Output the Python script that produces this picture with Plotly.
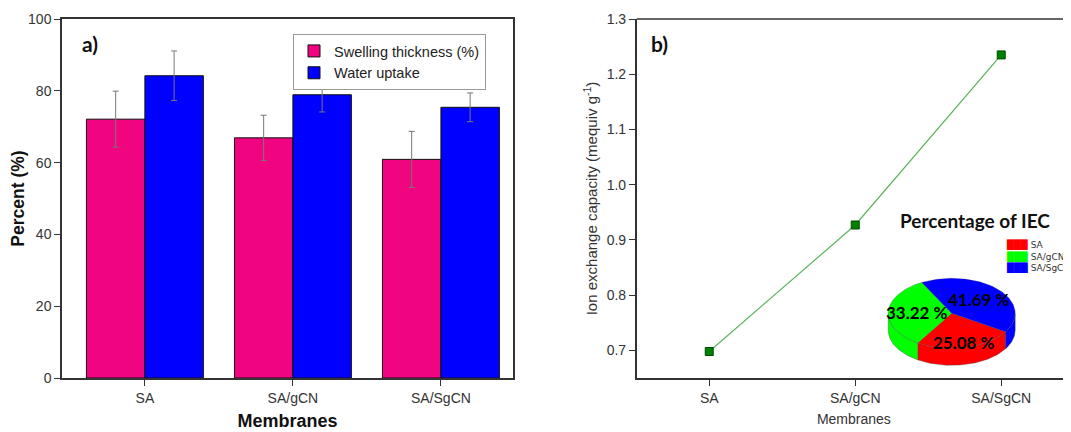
import numpy as np
import plotly.graph_objects as go

# ---------------- data ----------------
membranes = ["SA", "SA/gCN", "SA/SgCN"]
swelling = [72.1, 66.9, 60.9]
swelling_err = [7.8, 6.3, 7.8]
water_uptake = [84.2, 78.9, 75.4]
water_err = [6.9, 4.8, 4.0]
iec = [0.698, 0.927, 1.235]
iec_pct = [25.08, 33.22, 41.69]
pie_labels = ["SA", "SA/gCN", "SA/SgCN"]
pie_colors = ["#FF0000", "#00FF00", "#0000FF"]

# the page body has an 8px margin; figure is sized / placed to compensate
OFF = 8
W, H = 1071 - OFF, 432 - OFF
ML, MR, MT, MB = 62 - OFF, 0, 19 - OFF, 54
PW = W - ML - MR
PH = H - MT - MB

def px_x(p):  # screen pixel -> paper x
    return (p - OFF - ML) / PW

def px_y(p):  # screen pixel -> paper y
    return (H - MB - (p - OFF)) / PH

fig = go.Figure()

# ---------------- panel a ----------------
fig.add_trace(go.Bar(
    x=membranes, y=swelling, name="Swelling thickness (%)",
    marker=dict(color="#F0047F", line=dict(color="#111", width=1)),
    error_y=dict(type="data", array=swelling_err, color="#777", thickness=1, width=3),
    xaxis="x", yaxis="y"))
fig.add_trace(go.Bar(
    x=membranes, y=water_uptake, name="Water uptake",
    marker=dict(color="#0000FF", line=dict(color="#111", width=1)),
    error_y=dict(type="data", array=water_err, color="#777", thickness=1, width=3),
    xaxis="x", yaxis="y"))

# ---------------- panel b ----------------
fig.add_trace(go.Scatter(
    x=membranes, y=iec, mode="lines+markers", showlegend=False,
    line=dict(color="#5cb25c", width=1.2),
    marker=dict(symbol="square", size=8, color="#008000", line=dict(color="#004d00", width=1)),
    xaxis="x2", yaxis="y2"))

# ---------------- inset 3D-look pie ----------------
A, B, TH = 63.5, 35.0, 17.0   # ellipse semi-axes and thickness (pixels)
start = -32.0
fr = np.array(iec_pct) / np.sum(iec_pct)
bounds = start - 360.0 * np.concatenate([[0], np.cumsum(fr)])

def ell(t, dy=0.0):
    r = np.radians(t)
    return A * np.cos(r), B * np.sin(r) + dy

for i in range(3):
    lo, hi = bounds[i + 1], bounds[i]
    for k in range(-2, 2):
        flo, fhi = -180 + 360 * k, 0 + 360 * k
        a, b = max(lo, flo), min(hi, fhi)
        if b > a:
            t = np.linspace(a, b, 60)
            x1, y1 = ell(t)
            x2, y2 = ell(t[::-1], -TH)
            fig.add_trace(go.Scatter(
                x=np.concatenate([x1, x2, x1[:1]]), y=np.concatenate([y1, y2, y1[:1]]),
                mode="lines", fill="toself", fillcolor=pie_colors[i],
                line=dict(color="rgba(60,60,60,0.6)", width=0.6),
                showlegend=False, hoverinfo="skip", xaxis="x3", yaxis="y3"))

for i in range(3):
    t = np.linspace(bounds[i], bounds[i + 1], 80)
    xe, ye = ell(t)
    fig.add_trace(go.Scatter(
        x=np.concatenate([[0], xe, [0]]), y=np.concatenate([[0], ye, [0]]),
        mode="lines", fill="toself", fillcolor=pie_colors[i],
        line=dict(color="rgba(60,60,60,0.5)", width=0.5),
        name=pie_labels[i], showlegend=False, hoverinfo="skip",
        xaxis="x3", yaxis="y3"))

label_r = [0.85, 0.55, 0.58]
for i in range(3):
    mid = (bounds[i] + bounds[i + 1]) / 2
    lx, ly = ell(mid)
    fig.add_annotation(x=lx * label_r[i], y=ly * label_r[i], xref="x3", yref="y3",
                       xanchor="center", yanchor="middle",
                       text=f"<b>{iec_pct[i]:.2f} %</b>", showarrow=False,
                       font=dict(family="Lato, Open Sans", size=17, color="black"))

# pie legend as one text block (coloured swatches + labels)
legend_txt = "<br>".join(
    f"<span style='color:{c}'>███</span> {lab}" for c, lab in zip(pie_colors, pie_labels))
fig.add_annotation(x=px_x(1004), y=px_y(237), xref="paper", yref="paper",
                   xanchor="left", yanchor="top", align="left", showarrow=False,
                   text=legend_txt,
                   font=dict(family="DejaVu Sans, Liberation Sans", size=9, color="#333"))

# ---------------- layout ----------------
axis_common = dict(showline=True, linecolor="#333", linewidth=1.5, ticks="outside",
                   ticklen=6, tickcolor="#333", tickwidth=1.2, showgrid=False, zeroline=False,
                   tickfont=dict(family="Liberation Sans, Arial", size=14, color="#333"))

cx, cy = 951.7, 313.3
fig.update_layout(
    width=W, height=H, margin=dict(l=ML, r=MR, t=MT, b=MB),
    paper_bgcolor="white", plot_bgcolor="white",
    barmode="group", bargap=0.21, bargroupgap=0,
    xaxis=dict(domain=[0, px_x(513)], range=[-0.56, 2.487], mirror=True, **axis_common,
               title=dict(text="<b>Membranes</b>", standoff=10,
                          font=dict(family="Liberation Sans, Arial", size=18, color="#111"))),
    yaxis=dict(range=[0, 100], tickvals=[0, 20, 40, 60, 80, 100], mirror=True, **axis_common,
               title=dict(text="<b>Percent (%)</b>", standoff=6,
                          font=dict(family="Liberation Sans, Arial", size=17.5, color="#111"))),
    xaxis2=dict(domain=[px_x(636.7), 1.0], range=[-0.497, 2.478], anchor="y2", **axis_common,
                title=dict(text="Membranes", standoff=10,
                           font=dict(family="Liberation Sans, Arial", size=14, color="#333"))),
    yaxis2=dict(range=[0.65, 1.3], tickvals=[0.7, 0.8, 0.9, 1.0, 1.1, 1.2, 1.3],
                tickformat=".1f", anchor="x2", **axis_common,
                title=dict(text="Ion exchange capacity (mequiv g<sup>-1</sup>)", standoff=5,
                           font=dict(family="Liberation Sans, Arial", size=15, color="#333"))),
    xaxis3=dict(domain=[px_x(cx - 85), px_x(cx + 85)], range=[-85, 85], visible=False,
                anchor="y3", fixedrange=True),
    yaxis3=dict(domain=[px_y(cy + 60), px_y(cy - 45)], range=[-60, 45], visible=False,
                anchor="x3", fixedrange=True),
    legend=dict(x=px_x(293), y=px_y(34), xanchor="left", yanchor="top",
                bordercolor="#999", borderwidth=1, bgcolor="white",
                font=dict(family="Liberation Sans, Arial", size=14.5, color="#222"),
                tracegroupgap=0, itemwidth=30),
    showlegend=True,
)

fig.add_shape(type="line", xref="paper", yref="paper", x0=px_x(636.7), x1=1.0, y0=1, y1=1,
              line=dict(color="#333", width=1.5))

for txt, sx, sy, sz in [("<b>a)</b>", 90, 43, 21), ("<b>b)</b>", 659, 43, 21),
                        ("<b>Percentage of IEC</b>", 975, 221, 19)]:
    fig.add_annotation(x=px_x(sx), y=px_y(sy), xref="paper", yref="paper", text=txt,
                       xanchor="center", yanchor="middle", showarrow=False,
                       font=dict(family="Lato, Open Sans", size=sz, color="#111"))

fig.write_html("out.html")
